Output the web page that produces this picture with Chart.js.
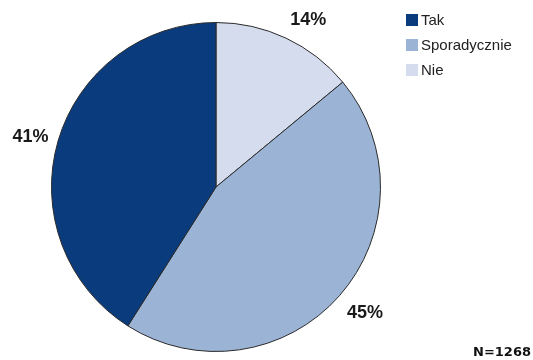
<!DOCTYPE html>
<html>
<head>
<meta charset="utf-8">
<script src="https://cdn.jsdelivr.net/npm/chart.js@4/dist/chart.umd.min.js"></script>
<style>
  html, body { margin: 0; padding: 0; background: #fff; }
  #wrap { width: 533px; height: 360px; position: relative; }
</style>
</head>
<body>
<div id="wrap"><canvas id="pie" width="533" height="360"></canvas></div>
<script>
// answers in legend order
const labels = ['Tak', 'Sporadycznie', 'Nie'];
const shares = [41, 45, 14];
const colors = ['#0a3c7d', '#9bb4d6', '#d4dcee'];
const sampleNote = 'N=1268';

// slices run clockwise from 12 o'clock starting with the last answer
const order = labels.map((_, i) => labels.length - 1 - i);

const pieLabels = {
  id: 'pieLabels',
  afterDraw(chart) {
    const ctx = chart.ctx;
    const arcs = chart.getDatasetMeta(0).data;
    ctx.save();

    // percentages: box edge sits on a ring just outside the rim
    ctx.font = 'bold 18px "Liberation Sans", Arial, sans-serif';
    ctx.fillStyle = '#1a1a1a';
    ctx.textAlign = 'center';
    ctx.textBaseline = 'alphabetic';
    const capH = 13;
    arcs.forEach((arc, i) => {
      const text = chart.data.datasets[0].data[i] + '%';
      const w = ctx.measureText(text).width;
      const mid = (arc.startAngle + arc.endAngle) / 2;
      const r = arc.outerRadius + 10;
      const ax = arc.x + Math.cos(mid) * r;
      const ay = arc.y + Math.sin(mid) * r;
      const cx = ax + Math.sign(Math.cos(mid)) * w / 2;
      const cy = ay + Math.sin(mid) * capH + 1;
      ctx.fillText(text, cx, cy + capH / 2);
    });

    // legend
    ctx.font = '15px "Liberation Sans", Arial, sans-serif';
    ctx.textAlign = 'left';
    ctx.textBaseline = 'middle';
    labels.forEach((name, i) => {
      const y = 20 + i * 25;
      ctx.fillStyle = colors[i];
      ctx.fillRect(406, y - 6, 12, 12);
      ctx.fillStyle = '#222';
      ctx.fillText(name, 421, y + 1);
    });

    ctx.font = 'bold 13px "DejaVu Sans", Verdana, sans-serif';
    ctx.textAlign = 'right';
    ctx.fillStyle = '#111';
    ctx.fillText(sampleNote, 531, 353);
    ctx.restore();
  }
};

new Chart(document.getElementById('pie'), {
  type: 'pie',
  data: {
    labels: order.map(i => labels[i]),
    datasets: [{
      data: order.map(i => shares[i]),
      backgroundColor: order.map(i => colors[i]),
      borderColor: '#2a2a2a',
      borderWidth: 1
    }]
  },
  options: {
    responsive: false,
    animation: false,
    layout: { padding: { top: 22, bottom: 8, left: 51, right: 152 } },
    plugins: {
      legend: { display: false },
      tooltip: { enabled: false }
    }
  },
  plugins: [pieLabels]
});
</script>
</body>
</html>
